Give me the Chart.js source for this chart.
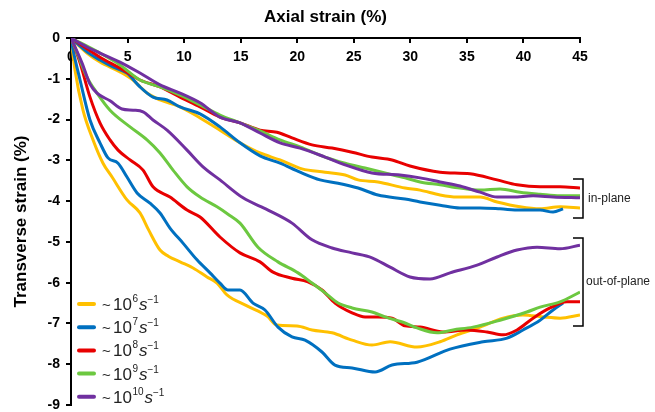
<!DOCTYPE html>
<html>
<head>
<meta charset="utf-8">
<script src="https://cdn.jsdelivr.net/npm/chart.js@4"></script>
<style>
  html, body { margin: 0; padding: 0; background: #fff; }
  #wrap { width: 655px; height: 412px; }
</style>
</head>
<body>
<div id="wrap"><canvas id="strainChart" width="655" height="412"></canvas></div>
<script>
// strain rate exponents (legend: ~10^n s^-1)
var rateExponents = ['6', '7', '8', '9', '10'];
var lineColors = ['#FFC000', '#0070C0', '#E80000', '#6CC840', '#7030A0'];

// in-plane transverse strain  [axial %, transverse %]
var inPlane6 = [[0,0],[1.41,-0.37],[2.56,-0.59],[4.33,-0.83],[5.48,-1.03],[6.72,-1.35],[7.87,-1.52],[9.64,-1.69],[11.41,-1.96],[13.17,-2.26],[14.94,-2.57],[16.71,-2.82],[18.48,-2.99],[20.42,-3.21],[22.46,-3.29],[24.23,-3.36],[25.38,-3.48],[27.14,-3.53],[29.53,-3.68],[30.86,-3.73],[32.63,-3.85],[34.13,-3.9],[36.16,-3.9],[37.67,-4.02],[39.7,-4.14],[41.47,-4.19],[43.24,-4.14],[45,-4.17]];
var inPlane7 = [[0,0],[1.41,-0.34],[2.56,-0.54],[3.71,-0.71],[4.95,-0.86],[6.1,-1.2],[7.25,-1.45],[8.49,-1.52],[9.64,-1.69],[11.41,-1.86],[13.17,-2.18],[14.94,-2.57],[16.71,-2.89],[18.48,-3.07],[20.25,-3.29],[22.02,-3.48],[23.61,-3.56],[25.38,-3.68],[27.14,-3.85],[29.53,-3.95],[30.86,-4.02],[32.63,-4.1],[34.39,-4.17],[36.16,-4.17],[37.93,-4.19],[39.7,-4.22],[41.47,-4.22],[42.62,-4.27],[43.5,-4.19]];
var inPlane8 = [[0,0],[2.56,-0.47],[4.33,-0.74],[6.1,-1.03],[7.87,-1.2],[9.64,-1.45],[11.41,-1.69],[13.17,-1.94],[14.94,-2.08],[16.71,-2.26],[18.21,-2.31],[19.54,-2.45],[21.31,-2.62],[23.08,-2.7],[24.85,-2.8],[26.61,-2.92],[28.38,-2.99],[29.97,-3.14],[32.63,-3.29],[35.28,-3.33],[37.67,-3.48],[39.43,-3.6],[41.47,-3.65],[43.24,-3.65],[45,-3.68]];
var inPlane9 = [[0,0],[2.56,-0.37],[4.33,-0.66],[6.1,-1.03],[7.87,-1.2],[9.64,-1.4],[11.41,-1.64],[13.17,-1.89],[14.94,-2.08],[16.71,-2.28],[18.48,-2.5],[20.25,-2.67],[22.46,-2.92],[24.23,-3.07],[26,-3.19],[27.76,-3.31],[29.53,-3.43],[30.86,-3.53],[32.63,-3.6],[34.39,-3.68],[36.16,-3.73],[37.93,-3.7],[39.7,-3.78],[41.47,-3.83],[43.24,-3.87],[45,-3.87]];
var inPlane10 = [[0,0],[1.41,-0.22],[2.56,-0.37],[4.33,-0.59],[6.1,-0.86],[7.87,-1.15],[9.64,-1.35],[11.41,-1.59],[13.17,-1.94],[14.94,-2.08],[16.71,-2.33],[18.48,-2.57],[20.25,-2.7],[22.46,-2.92],[24.23,-3.11],[26.61,-3.31],[29.09,-3.36],[30.86,-3.43],[32.63,-3.53],[34.39,-3.63],[36.16,-3.78],[37.67,-3.9],[39.08,-3.9],[40.85,-3.87],[42.62,-3.9],[45,-3.92]];

// out-of-plane transverse strain
var outPlane6 = [[0,0],[0.35,-0.78],[1.06,-1.77],[1.95,-2.5],[2.83,-3.07],[3.63,-3.41],[4.95,-3.97],[6.1,-4.29],[6.85,-4.7],[7.87,-5.2],[8.6,-5.35],[9.64,-5.49],[10.79,-5.64],[12.02,-5.86],[12.91,-6.01],[13.79,-6.3],[15.56,-6.57],[17.33,-6.82],[18.21,-7.04],[19.98,-7.06],[21.31,-7.16],[23.08,-7.23],[24.85,-7.41],[26.61,-7.53],[28.21,-7.45],[30.59,-7.58],[32.63,-7.45],[34.13,-7.28],[36.16,-7.09],[38.2,-6.87],[39.96,-6.79],[41.73,-6.84],[43.24,-6.87],[45,-6.79]];
var outPlane7 = [[0,0],[0.18,-0.29],[0.8,-1.03],[1.68,-2.01],[2.56,-2.57],[3.27,-2.94],[4.16,-3.07],[4.95,-3.41],[5.84,-3.8],[6.98,-4.05],[7.87,-4.29],[8.75,-4.66],[9.9,-5.03],[11.14,-5.44],[12.29,-5.76],[13.17,-6.01],[13.88,-6.18],[14.94,-6.18],[16.09,-6.5],[17.15,-6.67],[18.3,-7.09],[19.54,-7.33],[20.69,-7.41],[22.19,-7.7],[23.34,-8.02],[24.85,-8.09],[26.88,-8.19],[28.38,-8.02],[30.59,-7.95],[33.51,-7.63],[36.43,-7.45],[38.55,-7.36],[39.96,-7.16],[41.47,-6.92],[42.62,-6.67],[43.5,-6.5]];
var outPlane8 = [[0,0],[0.18,-0.12],[0.8,-0.61],[1.68,-1.45],[2.56,-2.08],[3.45,-2.5],[4.16,-2.75],[5.22,-2.99],[6.37,-3.24],[7.25,-3.65],[8.75,-3.9],[10.26,-4.22],[11.41,-4.39],[13.17,-4.88],[14.94,-5.27],[16.71,-5.49],[17.86,-5.74],[19.54,-5.89],[20.95,-5.98],[22.19,-6.18],[23.34,-6.5],[24.85,-6.74],[26,-6.84],[27.14,-6.84],[28.38,-6.87],[29.53,-7.06],[30.86,-7.09],[32.89,-7.21],[35.01,-7.16],[36.78,-7.21],[38.2,-7.28],[39.43,-7.16],[40.85,-6.87],[42.35,-6.62],[43.85,-6.47],[45,-6.47]];
var outPlane9 = [[0,0],[0.6,-0.4],[1.41,-0.96],[2.3,-1.35],[3.45,-1.77],[5.22,-2.18],[6.72,-2.5],[7.87,-2.82],[9.02,-3.24],[10.26,-3.65],[11.41,-3.9],[12.91,-4.14],[13.88,-4.32],[14.94,-4.54],[16.53,-5.13],[18.3,-5.49],[20.07,-5.76],[21.31,-6.01],[22.46,-6.25],[23.61,-6.5],[24.85,-6.62],[26.61,-6.72],[27.76,-6.84],[29.53,-6.99],[30.59,-7.11],[32.36,-7.23],[33.78,-7.16],[35.54,-7.09],[37.93,-6.92],[40.3,-6.72],[41.47,-6.6],[43.24,-6.47],[45,-6.23]];
var outPlane10 = [[0,0],[0.97,-0.61],[1.68,-1.13],[2.3,-1.35],[3.45,-1.54],[4.51,-1.74],[5.48,-1.77],[6.37,-1.81],[7.25,-2.01],[8.49,-2.26],[10.26,-2.75],[11.67,-3.16],[13.17,-3.48],[15.21,-3.92],[17.42,-4.22],[19.54,-4.54],[21.31,-4.95],[23.08,-5.15],[24.85,-5.27],[26.61,-5.39],[28.21,-5.62],[29.97,-5.86],[31.74,-5.91],[33.51,-5.76],[35.9,-5.57],[37.67,-5.37],[39.43,-5.2],[41.2,-5.13],[43.24,-5.17],[45,-5.08]];

var inPlaneSets = [inPlane6, inPlane7, inPlane8, inPlane9, inPlane10];
var outPlaneSets = [outPlane6, outPlane7, outPlane8, outPlane9, outPlane10];

var FONT = "Arial, 'Liberation Sans', sans-serif";

function toPoints(pairs){
    return pairs.map(function(p){ return {x: p[0], y: p[1]}; });
}

function buildDatasets(){
    var sets = [];
    for (var i = rateExponents.length - 1; i >= 0; i--) {
        [inPlaneSets[i], outPlaneSets[i]].forEach(function(pairs){
            sets.push({
                label: '~10^' + rateExponents[i] + ' s^-1',
                data: toPoints(pairs),
                borderColor: lineColors[i],
                backgroundColor: lineColors[i],
                borderWidth: 3,
                pointRadius: 0,
                cubicInterpolationMode: 'monotone',
                fill: false
            });
        });
    }
    return sets;
}

// legend with superscripts + brackets on the right
var extrasPlugin = {
    id: 'extras',
    afterDraw: function(chart){
        var ctx = chart.ctx;
        ctx.save();
        rateExponents.forEach(function(exp, i){
            var y = 304 + i * 23.2;
            ctx.strokeStyle = lineColors[i];
            ctx.lineWidth = 4;
            ctx.lineCap = 'round';
            ctx.beginPath();
            ctx.moveTo(79, y);
            ctx.lineTo(94, y);
            ctx.stroke();

            ctx.fillStyle = '#222';
            ctx.textAlign = 'left';
            ctx.textBaseline = 'alphabetic';
            ctx.font = '15px ' + FONT;
            ctx.fillText('~', 102, y + 6);
            var x = 113;
            ctx.font = '17px ' + FONT;
            ctx.fillText('10', x, y + 6);
            x += ctx.measureText('10').width + 0.5;
            ctx.font = '10px ' + FONT;
            ctx.fillText(exp, x, y - 2);
            x += ctx.measureText(exp).width + 1;
            ctx.font = 'italic 17px ' + FONT;
            ctx.fillText('s', x, y + 6);
            x += ctx.measureText('s').width;
            ctx.font = '10px ' + FONT;
            ctx.fillText('\u22121', x, y - 1);
        });

        // brackets
        ctx.strokeStyle = '#000';
        ctx.lineWidth = 1.5;
        ctx.lineCap = 'butt';
        [[179, 218], [238, 326]].forEach(function(b){
            ctx.beginPath();
            ctx.moveTo(573, b[0]);
            ctx.lineTo(583, b[0]);
            ctx.lineTo(583, b[1]);
            ctx.lineTo(573, b[1]);
            ctx.stroke();
        });
        ctx.fillStyle = '#222';
        ctx.font = '12px ' + FONT;
        ctx.textBaseline = 'middle';
        ctx.fillText('in-plane', 588, 199);
        ctx.fillText('out-of-plane', 586, 282);
        ctx.restore();
    }
};

function initChart(){
    var el = document.getElementById('strainChart');
    var myChart = new Chart(el, {
        type: 'line',
        data: { datasets: buildDatasets() },
        options: {
            responsive: false,
            animation: false,
            layout: { padding: { left: 11, right: 75, top: 7, bottom: 7 } },
            plugins: {
                legend: { display: false },
                tooltip: { enabled: false }
            },
            scales: {
                x: {
                    type: 'linear',
                    position: 'top',
                    min: 0,
                    max: 45,
                    border: { display: true, color: '#000', width: 2 },
                    grid: { drawOnChartArea: false, drawTicks: true, tickLength: -5, color: '#000', lineWidth: 2 },
                    ticks: {
                        stepSize: 5,
                        mirror: true,
                        padding: 11,
                        color: '#000',
                        font: { family: FONT, size: 14, weight: 'bold' }
                    },
                    title: {
                        display: true,
                        text: 'Axial strain (%)',
                        color: '#000',
                        padding: { top: 0, bottom: 0 },
                        font: { family: FONT, size: 17, weight: 'bold' }
                    },
                    afterFit: function(scale){ scale.height = 31; }
                },
                y: {
                    type: 'linear',
                    position: 'left',
                    min: -9,
                    max: 0,
                    border: { display: true, color: '#000', width: 2 },
                    grid: { drawOnChartArea: false, drawTicks: true, tickLength: 5, color: '#000', lineWidth: 2 },
                    ticks: {
                        stepSize: 1,
                        padding: 6,
                        color: '#000',
                        font: { family: FONT, size: 14, weight: 'bold' }
                    },
                    title: {
                        display: true,
                        text: 'Transverse strain (%)',
                        color: '#000',
                        padding: { top: 0, bottom: 0 },
                        font: { family: FONT, size: 17, weight: 'bold' }
                    },
                    afterFit: function(scale){
                        scale.width = 60;
                        scale.paddingBottom = 0;
                        scale.paddingTop = 0;
                    }
                }
            }
        },
        plugins: [extrasPlugin]
    });
};

initChart();
</script>
</body>
</html>
